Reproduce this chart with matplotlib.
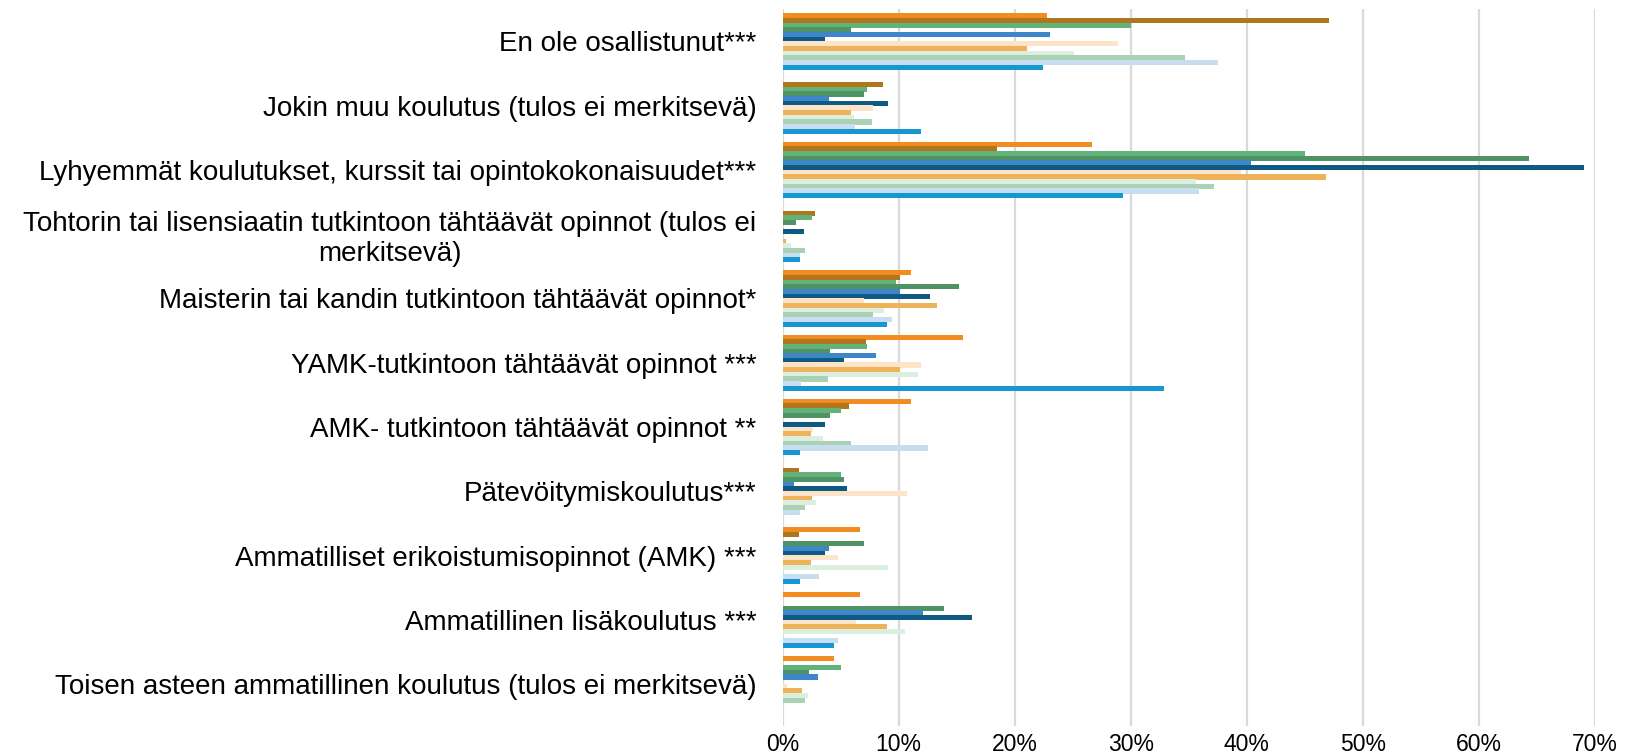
import numpy as np
import matplotlib.pyplot as plt
from matplotlib.ticker import PercentFormatter

plt.rcParams['font.family'] = ['Liberation Sans', 'DejaVu Sans']

categories = [
    'En ole osallistunut***',
    'Jokin muu koulutus (tulos ei merkitsevä)',
    'Lyhyemmät koulutukset, kurssit tai opintokokonaisuudet***',
    'Tohtorin tai lisensiaatin tutkintoon tähtäävät opinnot (tulos ei\nmerkitsevä)',
    'Maisterin tai kandin tutkintoon tähtäävät opinnot*',
    'YAMK-tutkintoon tähtäävät opinnot ***',
    'AMK- tutkintoon tähtäävät opinnot **',
    'Pätevöitymiskoulutus***',
    'Ammatilliset erikoistumisopinnot (AMK) ***',
    'Ammatillinen lisäkoulutus ***',
    'Toisen asteen ammatillinen koulutus (tulos ei merkitsevä)',
]

# values in percent, one list per series (top bar of each group first)
s_orange = [22.8, 0, 26.7, 0, 11.1, 15.5, 11.1, 0, 6.7, 6.7, 4.4]
s_gold = [47.1, 8.6, 18.5, 2.8, 10.1, 7.2, 5.7, 1.4, 1.4, 0, 0]
s_green = [30.0, 7.3, 45.0, 2.5, 9.8, 7.3, 5.0, 5.0, 0, 0, 5.0]
s_darkgreen = [5.9, 7.0, 64.3, 1.1, 15.2, 4.1, 4.1, 5.3, 7.0, 13.9, 2.3]
s_blue = [23.0, 4.0, 40.4, 0, 10.1, 8.0, 0, 1.0, 4.0, 12.1, 3.0]
s_navy = [3.6, 9.1, 69.1, 1.8, 12.7, 5.3, 3.6, 5.5, 3.6, 16.3, 0]
s_peach = [28.9, 7.8, 39.5, 0, 7.0, 11.9, 2.6, 10.7, 4.8, 6.3, 0.4]
s_lightorange = [21.1, 5.9, 46.8, 0.3, 13.3, 10.1, 2.4, 2.5, 2.4, 9.0, 1.7]
s_palegreen = [25.1, 6.1, 35.6, 0.7, 8.7, 11.7, 3.5, 2.9, 9.1, 10.5, 2.2]
s_lightgreen = [34.7, 7.7, 37.2, 1.9, 7.8, 3.9, 5.9, 1.9, 0, 0, 1.9]
s_lightblue = [37.5, 6.2, 35.9, 1.5, 9.4, 1.6, 12.5, 1.5, 3.1, 4.8, 0]
s_brightblue = [22.4, 11.9, 29.3, 1.5, 9.0, 32.9, 1.5, 0, 1.5, 4.4, 0]

series = [s_orange, s_gold, s_green, s_darkgreen, s_blue, s_navy,
          s_peach, s_lightorange, s_palegreen, s_lightgreen, s_lightblue, s_brightblue]
colors = ['#F28B20', '#AF761D', '#62B27A', '#4F9264', '#3F86C9', '#0F5A82',
          '#FDE3C8', '#EEB359', '#DCEEDF', '#A9D2B4', '#C9DDF1', '#1796D2']

fig = plt.figure(figsize=(16.25, 7.55), dpi=100)
ax = fig.add_axes([0.4817, 0.0384, 0.4996, 0.9493])

n = len(series)
step = 0.0726
y = np.arange(len(categories))
for j, (vals, c) in enumerate(zip(series, colors)):
    ax.barh(y + (j - (n - 1) / 2) * step, np.array(vals) / 100, height=step * 1.1,
            color=c, zorder=3)

ax.set_xlim(0, 0.7)
ax.set_ylim(10.653, -0.5)
ax.set_xticks(np.arange(0, 0.71, 0.1))
ax.xaxis.set_major_formatter(PercentFormatter(1.0, decimals=0))
ax.set_yticks(y)
ax.set_yticklabels(categories, fontsize=20, multialignment='center', linespacing=1.2)
ax.tick_params(axis='x', labelsize=16.5, length=0, pad=5)
ax.tick_params(axis='y', length=0, pad=19)
ax.grid(axis='x', color='#D9D9D9', linewidth=1.6, zorder=0)
for sp in ax.spines.values():
    sp.set_visible(False)

fig.savefig('out.png', dpi=100)
